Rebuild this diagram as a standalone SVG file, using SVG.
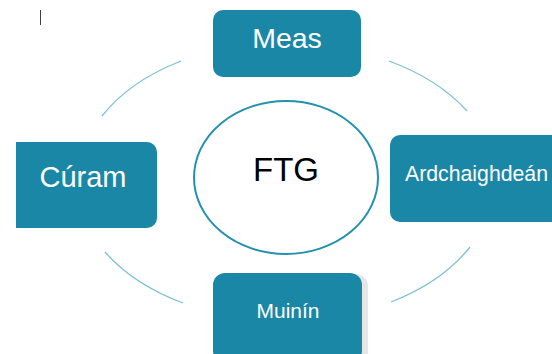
<svg xmlns="http://www.w3.org/2000/svg" width="552" height="354" viewBox="0 0 552 354">
<style>
.box{fill:#1b87a6}
.lbl{fill:#ffffff;font-family:"Liberation Sans",Arial,sans-serif;text-anchor:middle}
.arc{fill:none;stroke:#7cc0d6;stroke-width:1.3}
</style>
<rect width="552" height="354" fill="#ffffff"/>
<line x1="40.5" y1="10" x2="40.5" y2="25" stroke="#404040" stroke-width="1"/>
<g id="connectors">
<path class="arc" d="M102,116 A208,138 0 0 1 181,61"/>
<path class="arc" d="M389,61 A208,138 0 0 1 467,111"/>
<path class="arc" d="M470,247 A208,138 0 0 1 391,302"/>
<path class="arc" d="M183,303 A208,138 0 0 1 105,252"/>
</g>
<g id="center">
<ellipse cx="286" cy="177.5" rx="92" ry="76.5" fill="#ffffff" stroke="#2391ae" stroke-width="2"/>
<text x="286" y="181" font-family="Liberation Sans,Arial,sans-serif" font-size="33" fill="#000000" text-anchor="middle">FTG</text>
</g>
<g id="meas">
<rect class="box" x="213" y="10" width="148" height="67" rx="10"/>
<text class="lbl" x="287" y="48" font-size="28.5">Meas</text>
</g>
<g id="ardchaighdean">
<path class="box" d="M400,135 H552 V222 H400 A10,10 0 0 1 390,212 V145 A10,10 0 0 1 400,135 Z"/>
<text class="lbl" x="476.5" y="181" font-size="22" textLength="143" lengthAdjust="spacingAndGlyphs">Ardchaighdeán</text>
</g>
<g id="curam">
<path class="box" d="M16,142 H147 A10,10 0 0 1 157,152 V218 A10,10 0 0 1 147,228 H16 Z"/>
<text class="lbl" x="83" y="187" font-size="29">Cúram</text>
</g>
<g id="muinin">
<rect x="218" y="274" width="150" height="90" rx="12" fill="#e6e6e6"/>
<rect class="box" x="213" y="273" width="149" height="90" rx="12"/>
<text class="lbl" x="288" y="318" font-size="21">Muinín</text>
</g>
</svg>
